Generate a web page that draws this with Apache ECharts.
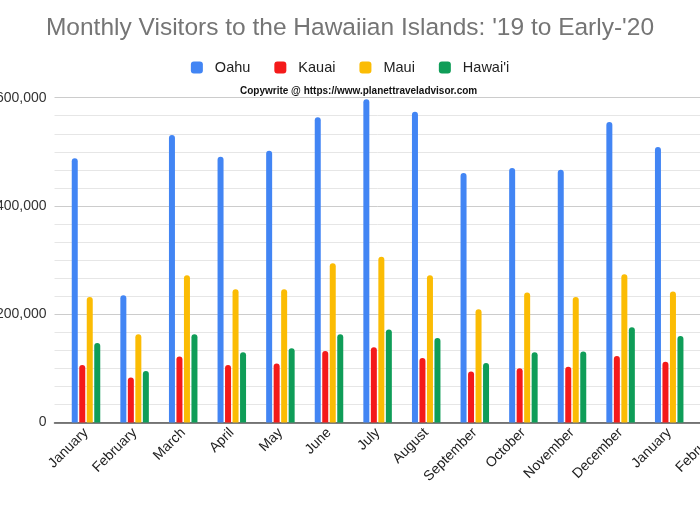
<!DOCTYPE html>
<html>
<head>
<meta charset="utf-8">
<script src="https://cdn.jsdelivr.net/npm/echarts@6/dist/echarts.min.js"></script>
<style>
  html, body { margin: 0; padding: 0; background: #fff; }
  #chart { width: 700px; height: 512px; }
</style>
</head>
<body>
<div id="chart"></div>
<script>
// monthly visitor counts (Feb '20 is off the edge)
const months = ['January', 'February', 'March', 'April', 'May', 'June', 'July',
  'August', 'September', 'October', 'November', 'December', 'January', 'February'];
const oahu = [488000, 235000, 531000, 491000, 502000, 564000, 597000, 574000, 461000, 470000, 467000, 555000, 509000, null];
const kauai = [106000, 83000, 122000, 106000, 109000, 132000, 139000, 119000, 94000, 100000, 103000, 123000, 112000, null];
const maui = [232000, 163000, 272000, 246000, 246000, 294000, 306000, 272000, 209000, 240000, 232000, 274000, 242000, null];
const hawaii = [147000, 95000, 163000, 130000, 137000, 163000, 172000, 156000, 110000, 130000, 131000, 176000, 160000, null];

const font = 'Liberation Sans, Arial, sans-serif';

const chart = echarts.init(document.getElementById('chart'));

const bar = (name, data, color) => ({
  name: name,
  type: 'bar',
  xAxisIndex: 1,
  yAxisIndex: 1,
  data: data,
  barWidth: 6,
  barGap: '25%',
  itemStyle: { color: color, borderRadius: [3, 3, 0, 0] }
});

chart.setOption({
  animation: false,
  textStyle: { fontFamily: font },
  title: [{
    text: "Monthly Visitors to the Hawaiian Islands: '19 to Early-'20",
    left: 'center',
    top: 11,
    textStyle: { fontSize: 24.5, fontWeight: 'normal', color: '#757575', fontFamily: font }
  }, {
    text: 'Copywrite @ https://www.planettraveladvisor.com',
    left: 235,
    top: 81,
    textStyle: { fontSize: 10, fontWeight: 'bold', color: '#111', fontFamily: font }
  }],
  legend: {
    top: 55,
    left: 'center',
    icon: 'roundRect',
    itemWidth: 12,
    itemHeight: 12,
    itemGap: 24,
    textStyle: { fontSize: 14.5, color: '#222', padding: [0, 0, 0, 7] }
  },
  grid: [
    // axes and gridlines, cropped at the left like the picture
    { left: 54.5, right: 0, top: 97.7, bottom: 89.5, outerBoundsMode: 'none' },
    // bars: the bands run on past the right edge
    { left: 61.7, width: 680.4, top: 97.7, bottom: 89.5, outerBoundsMode: 'none' }
  ],
  xAxis: [{
    type: 'value',
    gridIndex: 0,
    min: 0,
    max: 1,
    axisLabel: { show: false },
    axisTick: { show: false },
    splitLine: { show: false },
    axisLine: { show: true, lineStyle: { color: '#555', width: 1.5 } }
  }, {
    type: 'category',
    gridIndex: 1,
    data: months,
    axisLine: { show: false },
    axisTick: { show: false },
    axisLabel: { interval: 0, rotate: 45, fontSize: 14, color: '#222', margin: 8 }
  }],
  yAxis: [{
    type: 'value',
    gridIndex: 0,
    min: 0,
    max: 600000,
    interval: 200000,
    axisLine: { show: false },
    axisTick: { show: false },
    axisLabel: {
      fontSize: 14,
      color: '#333',
      margin: 8,
      formatter: v => v.toLocaleString('en-US')
    },
    splitLine: { lineStyle: { color: '#cccccc' } },
    minorTick: { show: false, splitNumber: 6 },
    minorSplitLine: { show: true, lineStyle: { color: '#e6e6e6' } }
  }, {
    type: 'value',
    gridIndex: 1,
    min: 0,
    max: 600000,
    show: false
  }],
  series: [
    bar('Oahu', oahu, '#4285f4'),
    bar('Kauai', kauai, '#f41a1a'),
    bar('Maui', maui, '#fbbc04'),
    bar("Hawai'i", hawaii, '#0f9d58')
  ]
});
</script>
</body>
</html>
